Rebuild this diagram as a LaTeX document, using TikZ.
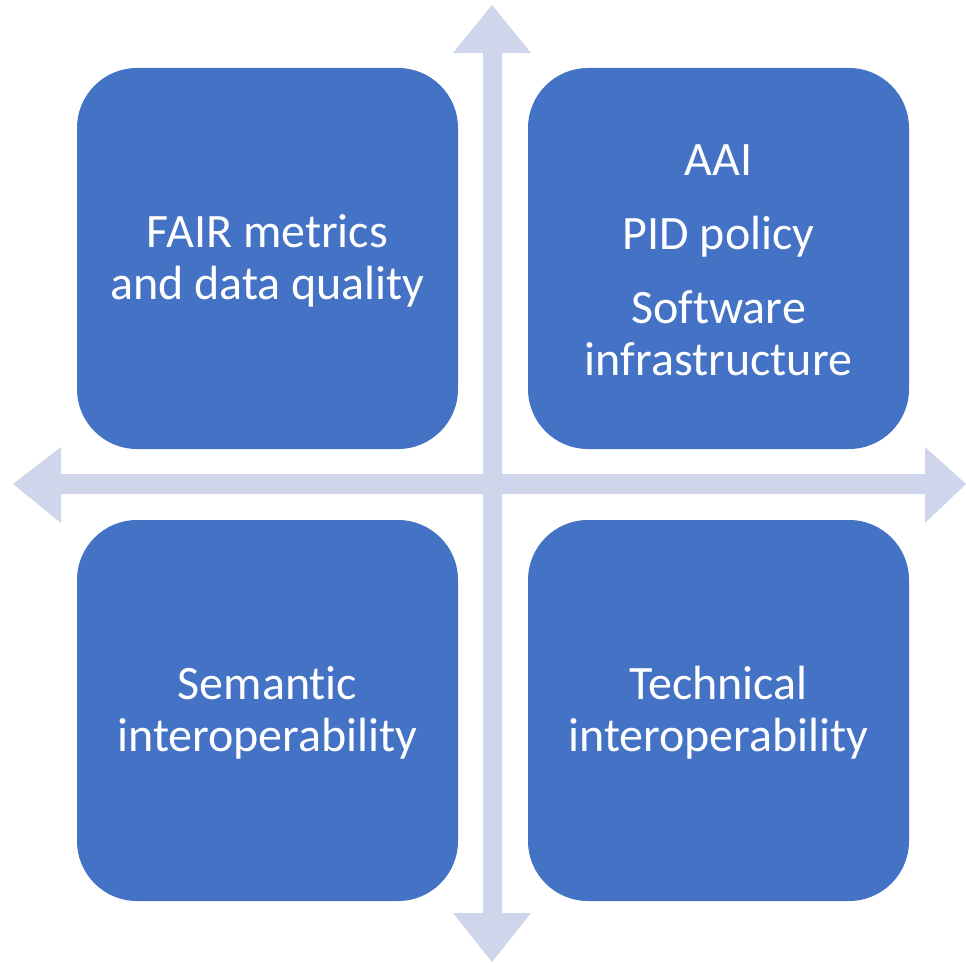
\documentclass[tikz,border=0pt]{standalone}
\usepackage{fontspec}
\setmainfont[Ligatures=NoCommon]{Carlito}
\definecolor{boxblue}{HTML}{4472C4}
\definecolor{arrowgray}{HTML}{CFD5EA}
\begin{document}
\begin{tikzpicture}[x=1pt,y=-1pt,
  quad/.style={fill=boxblue, draw=none, rounded corners=60pt, minimum width=381pt, minimum height=381pt, inner sep=0pt},
  quadtext/.style={text=white, align=center, inner sep=0pt, font=\fontsize{48}{52}\selectfont},
  axis/.style={fill=arrowgray, draw=none}]
\useasboundingbox (0,0) rectangle (966,963);
% vertical double arrow
\fill[axis] (492,5) -- (531,53) -- (502,53) -- (502,913) -- (531,913) -- (492,962) -- (453,913) -- (483,913) -- (483,53) -- (453,53) -- cycle;
% horizontal double arrow
\fill[axis] (13,484) -- (61,447) -- (61,474) -- (925,474) -- (925,447) -- (966,484) -- (925,523) -- (925,494) -- (61,494) -- (61,523) -- cycle;
\node[quad] (tl) at (267.5,258.5) {};
\node[quad] (tr) at (718.5,258.5) {};
\node[quad] (bl) at (267.5,710.5) {};
\node[quad] (br) at (718.5,710.5) {};
\node[quadtext] (tltext) at ([yshift=-2.5pt]tl.center) {FAIR metrics\\and data quality};
\node[quadtext] (trtext) at ([yshift=-1.5pt]tr.center) {AAI\\[22pt]PID policy\\[22pt]Software\\infrastructure};
\node[quadtext] (bltext) at ([yshift=-2.5pt]bl.center) {Semantic\\interoperability};
\node[quadtext] (brtext) at ([yshift=-2.5pt]br.center) {Technical\\interoperability};
\end{tikzpicture}
\end{document}
